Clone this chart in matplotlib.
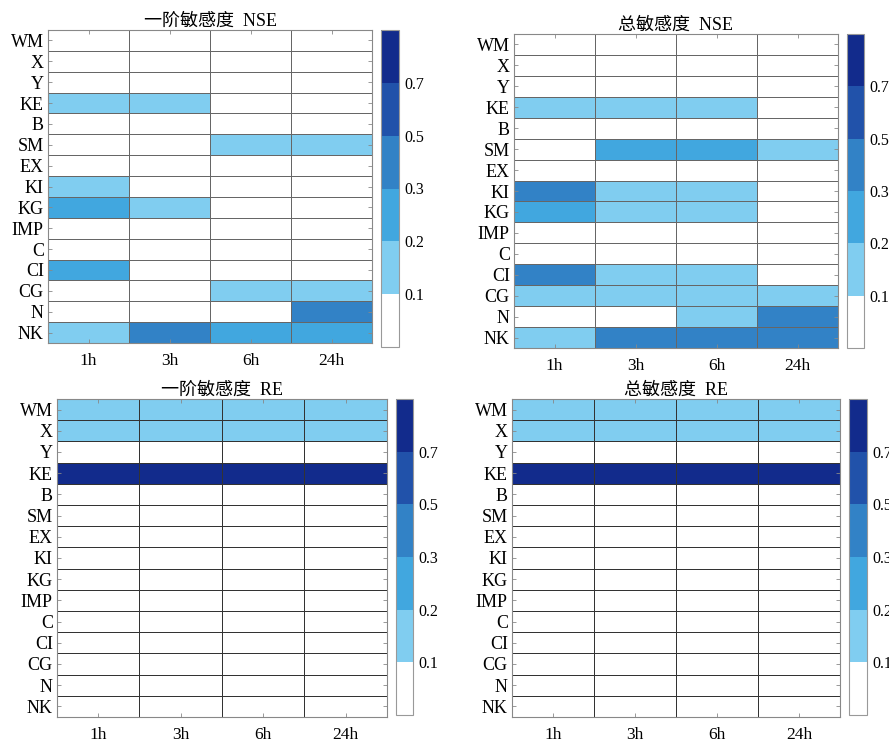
import matplotlib
matplotlib.use('Agg')
import matplotlib.pyplot as plt
import matplotlib.colors as colors
import numpy as np

plt.rcParams['font.family'] = ['Liberation Serif', 'Noto Sans CJK SC']

params = ['WM', 'X', 'Y', 'KE', 'B', 'SM', 'EX', 'KI', 'KG', 'IMP', 'C', 'CI', 'CG', 'N', 'NK']
periods = ['1h', '3h', '6h', '24h']

# sensitivity indices, one row per parameter, one column per period
first_nse = [
    [0.03, 0.03, 0.03, 0.03],
    [0.02, 0.02, 0.02, 0.02],
    [0.02, 0.02, 0.02, 0.02],
    [0.15, 0.13, 0.05, 0.04],
    [0.02, 0.02, 0.02, 0.02],
    [0.04, 0.06, 0.14, 0.16],
    [0.02, 0.02, 0.02, 0.02],
    [0.14, 0.05, 0.03, 0.03],
    [0.26, 0.13, 0.04, 0.03],
    [0.02, 0.02, 0.02, 0.02],
    [0.02, 0.02, 0.02, 0.02],
    [0.25, 0.06, 0.04, 0.03],
    [0.03, 0.05, 0.15, 0.17],
    [0.02, 0.04, 0.08, 0.38],
    [0.16, 0.36, 0.27, 0.28],
]
total_nse = [
    [0.04, 0.04, 0.04, 0.04],
    [0.03, 0.03, 0.03, 0.03],
    [0.03, 0.03, 0.03, 0.03],
    [0.16, 0.15, 0.14, 0.07],
    [0.03, 0.03, 0.03, 0.03],
    [0.07, 0.26, 0.27, 0.18],
    [0.03, 0.03, 0.03, 0.03],
    [0.35, 0.17, 0.15, 0.06],
    [0.28, 0.16, 0.15, 0.05],
    [0.03, 0.03, 0.03, 0.03],
    [0.03, 0.03, 0.03, 0.03],
    [0.34, 0.16, 0.15, 0.06],
    [0.15, 0.16, 0.17, 0.18],
    [0.04, 0.08, 0.14, 0.42],
    [0.17, 0.40, 0.41, 0.43],
]
first_re = [
    [0.15, 0.15, 0.15, 0.15],
    [0.14, 0.14, 0.14, 0.14],
    [0.02, 0.02, 0.02, 0.02],
    [0.78, 0.78, 0.78, 0.78],
    [0.01, 0.01, 0.01, 0.01],
    [0.01, 0.01, 0.01, 0.01],
    [0.01, 0.01, 0.01, 0.01],
    [0.01, 0.01, 0.01, 0.01],
    [0.01, 0.01, 0.01, 0.01],
    [0.01, 0.01, 0.01, 0.01],
    [0.01, 0.01, 0.01, 0.01],
    [0.01, 0.01, 0.01, 0.01],
    [0.01, 0.01, 0.01, 0.01],
    [0.01, 0.01, 0.01, 0.01],
    [0.01, 0.01, 0.01, 0.01],
]
total_re = [
    [0.16, 0.16, 0.16, 0.16],
    [0.15, 0.15, 0.15, 0.15],
    [0.03, 0.03, 0.03, 0.03],
    [0.79, 0.79, 0.79, 0.79],
    [0.02, 0.02, 0.02, 0.02],
    [0.02, 0.02, 0.02, 0.02],
    [0.02, 0.02, 0.02, 0.02],
    [0.02, 0.02, 0.02, 0.02],
    [0.02, 0.02, 0.02, 0.02],
    [0.02, 0.02, 0.02, 0.02],
    [0.02, 0.02, 0.02, 0.02],
    [0.02, 0.02, 0.02, 0.02],
    [0.02, 0.02, 0.02, 0.02],
    [0.02, 0.02, 0.02, 0.02],
    [0.02, 0.02, 0.02, 0.02],
]

bounds = [0, 0.1, 0.2, 0.3, 0.5, 0.7, 0.85]
cbar_ticks = [0.1, 0.2, 0.3, 0.5, 0.7]
cmap = colors.ListedColormap(['#ffffff', '#80cdf0', '#41a7df', '#3282c6', '#2152aa', '#122b8c'])
norm = colors.BoundaryNorm(bounds, cmap.N)

# (title, data, axes rect in px, colorbar rect in px, grid colour)
panels = [
    ('一阶敏感度  NSE', first_nse, (48, 30, 372, 343), (381, 30, 399, 347), '#666666'),
    ('总敏感度  NSE', total_nse, (514, 34, 838, 348), (847, 34, 864, 348), '#666666'),
    ('一阶敏感度  RE', first_re, (57, 399, 387, 717), (396, 399, 413, 715), '#333333'),
    ('总敏感度  RE', total_re, (512, 399, 840, 717), (849, 399, 867, 715), '#333333'),
]

W, H = 889, 743
fig = plt.figure(figsize=(W / 100, H / 100), dpi=100)


def px_rect(r):
    x0, y0, x1, y1 = r
    return [x0 / W, 1 - y1 / H, (x1 - x0) / W, (y1 - y0) / H]


for title, data, arect, crect, gcol in panels:
    ax = fig.add_axes(px_rect(arect))
    vals = np.array(data)
    mesh = ax.pcolormesh(np.arange(len(periods) + 1), np.arange(len(params) + 1), vals,
                         cmap=cmap, norm=norm, edgecolors=gcol, linewidth=0.6)
    ax.set_xlim(0, len(periods))
    ax.set_ylim(len(params), 0)
    ax.set_xticks(np.arange(len(periods)) + 0.5)
    ax.set_xticklabels(periods, fontsize=12.5)
    ax.set_yticks(np.arange(len(params)) + 0.5)
    ax.set_yticklabels(params, fontsize=13)
    ax.tick_params(direction='in', length=3, width=0.6, color='#888888',
                   top=True, right=True, pad=3)
    ax.tick_params(axis='x', pad=7)
    for s in ax.spines.values():
        s.set_color('#888888')
        s.set_linewidth(0.8)
    ax.set_title(title, fontsize=13, pad=3)

    cax = fig.add_axes(px_rect(crect))
    cb = fig.colorbar(mesh, cax=cax, ticks=cbar_ticks, spacing='uniform')
    cb.ax.set_yticklabels(['0.1', '0.2', '0.3', '0.5', '0.7'], fontsize=11.5)
    cb.ax.minorticks_off()
    cb.ax.tick_params(length=0, pad=4)
    cb.outline.set_edgecolor('#999999')
    cb.outline.set_linewidth(0.8)

fig.savefig('out.png', dpi=100)
